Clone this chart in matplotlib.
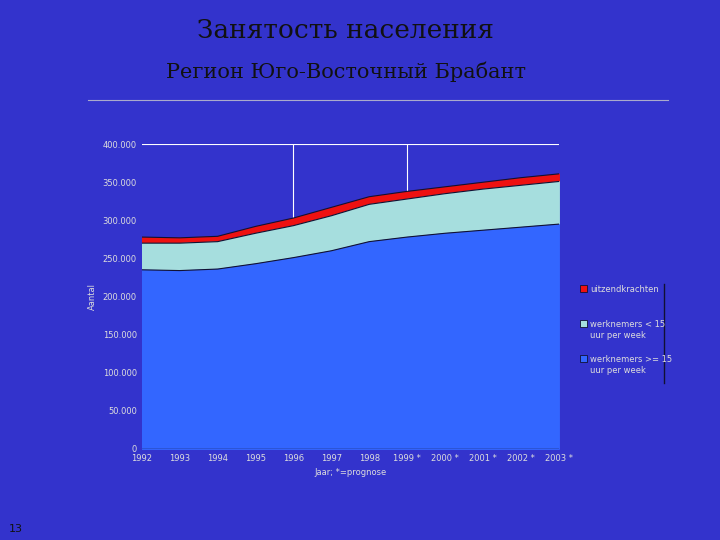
import matplotlib.pyplot as plt
import numpy as np

years = ['1992', '1993', '1994', '1995', '1996', '1997', '1998',
         '1999 *', '2000 *', '2001 *', '2002 *', '2003 *']
full_time = [235000, 234000, 236000, 243000, 251000, 260000, 272000,
             278000, 283000, 287000, 291000, 295000]
part_time = [35000, 36000, 36000, 40000, 42000, 46000, 49000,
             50000, 52000, 54000, 55000, 56000]
temp_agency = [8000, 7000, 7000, 9000, 10000, 11000, 10000,
               10000, 9000, 9000, 10000, 10000]

bg = '#3333cc'
fig = plt.figure(figsize=(7.2, 5.4), dpi=100, facecolor=bg)
ax = fig.add_axes([0.197, 0.169, 0.579, 0.564], facecolor=bg)

x = np.arange(len(years))
b1 = np.array(full_time)
b2 = b1 + np.array(part_time)
b3 = b2 + np.array(temp_agency)

# white lines in the background
ax.axhline(400000, color='white', lw=0.8, zorder=0)
for xv in (4, 7):
    ax.axvline(xv, color='white', lw=0.8, zorder=0)

ax.fill_between(x, b2, b3, color='#ee1111', zorder=1)
ax.fill_between(x, b1, b2, color='#a6dede', zorder=1)
ax.fill_between(x, 0, b1, color='#3366ff', zorder=1)
for top in (b1, b2, b3):
    ax.plot(x, top, color='#111133', lw=0.8, zorder=2)
ax.axhline(0, color='#111133', lw=1, zorder=2)

ax.set_xlim(0, 11)
ax.set_ylim(0, 400000)
ax.set_xticks(x)
ax.set_xticklabels(years)
yt = np.arange(0, 400001, 50000)
ax.set_yticks(yt)
ax.set_yticklabels(['0'] + [f'{v // 1000}.000' for v in yt[1:]])
ax.tick_params(colors='#dddddd', labelsize=6, length=0)
for s in ax.spines.values():
    s.set_visible(False)
ax.set_xlabel('Jaar; *=prognose', color='#dddddd', fontsize=6)
ax.set_ylabel('Aantal', color='#dddddd', fontsize=6)

# legend
lx, ly = 0.805, 0.46
items = [('#ee1111', 'uitzendkrachten'),
         ('#a6dede', 'werknemers < 15\nuur per week'),
         ('#3366ff', 'werknemers >= 15\nuur per week')]
for i, (c, t) in enumerate(items):
    yy = ly - i * 0.065
    fig.patches.append(plt.Rectangle((lx, yy), 0.01, 0.013, facecolor=c,
                                     edgecolor='#111133', lw=0.6,
                                     transform=fig.transFigure))
    fig.text(lx + 0.015, yy + 0.013, t, color='#dddddd', fontsize=6,
             va='top', linespacing=1.3)
fig.add_artist(plt.Line2D([0.922, 0.922], [0.29, 0.475], color='#111133',
                          lw=1, transform=fig.transFigure))

fig.text(0.48, 0.93, 'Занятость населения', ha='center', color='#111111',
         fontsize=19, family='DejaVu Serif')
fig.text(0.48, 0.855, 'Регион Юго-Восточный Брабант', ha='center',
         color='#111111', fontsize=15, family='DejaVu Serif')
fig.add_artist(plt.Line2D([0.122, 0.928], [0.815, 0.815], color='#aaaacc',
                          lw=0.8, transform=fig.transFigure))
fig.text(0.012, 0.015, '13', color='#111111', fontsize=8)

fig.savefig('out.png', dpi=100, facecolor=bg)
